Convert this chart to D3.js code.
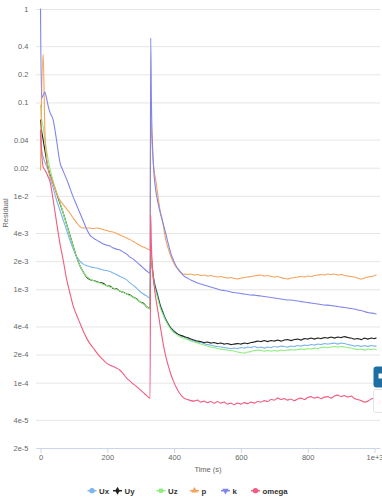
<!DOCTYPE html>
<html><head><meta charset="utf-8">
<script src="https://cdn.jsdelivr.net/npm/d3@7"></script>
<style>
body{margin:0;background:#fff;}
svg{display:block;font-family:"Liberation Sans",Arial,sans-serif;}
</style>
</head><body>
<svg id="chart" width="382" height="500"></svg>
<script>
// ---------- DATA ----------
const time = [0,3,8,13,18,23,28,38,48,58,68,78,88,98,108,118,128,138,148,158,168,178,188,198,208,218,228,238,248,258,268,278,288,298,308,318,328,
330,332,336,340,345,350,358,366,374,382,390,398,406,414,422,430,
440,450,460,470,480,490,500,510,520,530,540,550,560,570,580,590,600,610,620,630,640,650,660,670,680,690,700,710,720,730,740,750,760,770,780,790,800,810,820,830,840,850,860,870,880,890,900,910,920,930,940,950,960,970,980,990,1000,1005];

const seriesNames = ["Ux","Uy","Uz","p","k","omega"];
const seriesColors = ["#7cb5ec","#222222","#90ed7d","#f7a35c","#8085e9","#f15c80"];
const seriesSymbols = ["circle","diamond","square","triangle","triangle-down","circle"];

const Ux = [0.0448,0.0309,0.026,0.023,0.0209,0.0189,0.0159,0.0121,0.00902,0.00705,0.00551,0.0043,0.00336,0.00269,0.00224,0.002,0.00186,0.00179,0.00175,0.00171,0.00169,0.00165,0.00161,0.00159,0.00155,0.00149,0.00144,0.00137,0.00132,0.00126,0.00117,0.0011,0.00103,0.000946,0.000889,0.000846,0.000806,
0.00336,0.00232,0.00161,0.00126,0.001057,0.000911,0.000695,0.000585,0.000492,0.000435,0.000389,0.000366,0.000344,0.000327,0.000316,0.000308,
2.966e-4,2.859e-4,2.789e-4,2.721e-4,2.688e-4,2.622e-4,2.559e-4,2.527e-4,2.466e-4,2.436e-4,2.406e-4,2.376e-4,2.347e-4,2.318e-4,2.347e-4,2.318e-4,2.376e-4,2.347e-4,2.406e-4,2.376e-4,2.436e-4,2.376e-4,2.406e-4,2.347e-4,2.406e-4,2.376e-4,2.436e-4,2.406e-4,2.466e-4,2.436e-4,2.406e-4,2.466e-4,2.436e-4,2.496e-4,2.466e-4,2.527e-4,2.496e-4,2.559e-4,2.527e-4,2.590e-4,2.559e-4,2.622e-4,2.590e-4,2.622e-4,2.655e-4,2.590e-4,2.655e-4,2.622e-4,2.559e-4,2.527e-4,2.466e-4,2.496e-4,2.436e-4,2.496e-4,2.436e-4,2.496e-4,2.466e-4,2.466e-4];

const Uy = [0.0648,0.0506,0.0396,0.0309,0.0242,0.0198,0.0171,0.0137,0.0107,0.00838,0.00655,0.00499,0.0038,0.0029,0.00221,0.00179,0.00153,0.00135,0.00127,0.00124,0.00121,0.00118,0.00116,0.00109,0.00108,0.00102,0.00101,0.00095,0.00093,0.00089,0.00087,0.00082,0.00079,0.00073,0.00071,0.00065,0.00062,
0.00297,0.00216,0.00153,0.001195,0.001006,0.000867,0.000678,0.000563,0.00048,0.000424,0.000384,0.000357,0.00034,0.000327,0.000319,0.000312,
3.040e-4,2.930e-4,2.859e-4,2.789e-4,2.755e-4,2.688e-4,2.721e-4,2.655e-4,2.688e-4,2.622e-4,2.655e-4,2.590e-4,2.622e-4,2.559e-4,2.590e-4,2.622e-4,2.590e-4,2.655e-4,2.622e-4,2.688e-4,2.721e-4,2.789e-4,2.755e-4,2.824e-4,2.755e-4,2.824e-4,2.789e-4,2.859e-4,2.789e-4,2.859e-4,2.894e-4,2.824e-4,2.894e-4,2.930e-4,2.859e-4,2.966e-4,2.930e-4,3.003e-4,2.930e-4,3.003e-4,2.966e-4,3.040e-4,3.003e-4,3.078e-4,3.003e-4,3.078e-4,3.040e-4,3.116e-4,3.040e-4,3.003e-4,2.930e-4,2.966e-4,2.894e-4,3.003e-4,2.930e-4,3.003e-4,2.966e-4,3.003e-4];

const Uz = [0.0938,0.0681,0.0545,0.0396,0.0309,0.0242,0.0198,0.0144,0.011,0.00859,0.00655,0.00493,0.00376,0.00287,0.00221,0.00179,0.00153,0.00137,0.00129,0.00124,0.001195,0.001166,0.001124,0.001097,0.001057,0.001031,0.000994,0.000957,0.000922,0.000889,0.000856,0.000816,0.000777,0.00073,0.000695,0.000653,0.000614,
0.00312,0.00221,0.00149,0.001138,0.000957,0.000826,0.000645,0.000543,0.000468,0.000414,0.000375,0.000348,0.000331,0.000316,0.000304,0.000297,
2.894e-4,2.789e-4,2.721e-4,2.655e-4,2.590e-4,2.527e-4,2.466e-4,2.406e-4,2.376e-4,2.318e-4,2.290e-4,2.262e-4,2.234e-4,2.207e-4,2.180e-4,2.127e-4,2.101e-4,2.075e-4,2.127e-4,2.153e-4,2.207e-4,2.234e-4,2.207e-4,2.180e-4,2.207e-4,2.180e-4,2.207e-4,2.180e-4,2.234e-4,2.207e-4,2.234e-4,2.262e-4,2.234e-4,2.262e-4,2.290e-4,2.262e-4,2.318e-4,2.290e-4,2.347e-4,2.318e-4,2.376e-4,2.406e-4,2.376e-4,2.406e-4,2.436e-4,2.406e-4,2.436e-4,2.406e-4,2.376e-4,2.347e-4,2.290e-4,2.262e-4,2.290e-4,2.234e-4,2.290e-4,2.262e-4,2.290e-4,2.262e-4];

const p = [0.0189,0.106,0.33,0.0506,0.026,0.0198,0.0167,0.0137,0.0107,0.00902,0.00807,0.00723,0.00655,0.00578,0.00518,0.00469,0.00452,0.00452,0.00452,0.00447,0.00452,0.00447,0.00436,0.00425,0.00415,0.0041,0.00395,0.0038,0.00367,0.00353,0.0034,0.00324,0.00309,0.00294,0.00283,0.00273,0.00263,
0.083,0.0506,0.0273,0.0189,0.0148,0.011,0.00705,0.00524,0.00353,0.00276,0.00227,0.00195,0.00173,0.00159,0.00149,0.001455,
1.437e-3,1.455e-3,1.420e-3,1.437e-3,1.403e-3,1.420e-3,1.385e-3,1.403e-3,1.368e-3,1.352e-3,1.368e-3,1.335e-3,1.319e-3,1.335e-3,1.303e-3,1.287e-3,1.319e-3,1.335e-3,1.352e-3,1.368e-3,1.385e-3,1.403e-3,1.420e-3,1.385e-3,1.403e-3,1.368e-3,1.352e-3,1.368e-3,1.335e-3,1.303e-3,1.287e-3,1.319e-3,1.335e-3,1.352e-3,1.368e-3,1.352e-3,1.385e-3,1.368e-3,1.403e-3,1.420e-3,1.437e-3,1.420e-3,1.455e-3,1.437e-3,1.455e-3,1.420e-3,1.437e-3,1.403e-3,1.385e-3,1.368e-3,1.352e-3,1.319e-3,1.287e-3,1.319e-3,1.352e-3,1.368e-3,1.403e-3,1.420e-3];

const k = [1,0.111,0.12,0.129,0.111,0.0915,0.0789,0.0648,0.0396,0.023,0.0184,0.0151,0.0121,0.0097,0.00797,0.00655,0.00537,0.00441,0.0038,0.00353,0.00336,0.0032,0.00305,0.00297,0.0029,0.00276,0.00269,0.00263,0.0025,0.00238,0.00221,0.0021,0.00195,0.00182,0.00169,0.00157,0.00149,
0.489,0.106,0.0309,0.0167,0.0115,0.00902,0.00671,0.00524,0.0041,0.00312,0.00244,0.00205,0.00177,0.00161,0.00149,0.00138,
1.319e-3,1.256e-3,1.21e-3,1.166e-3,1.138e-3,1.11e-3,1.083e-3,1.057e-3,1.031e-3,1.006e-3,0.981e-3,0.969e-3,0.957e-3,0.934e-3,0.922e-3,0.911e-3,0.9e-3,0.889e-3,0.878e-3,0.867e-3,0.865e-3,0.856e-3,0.846e-3,0.836e-3,0.826e-3,0.816e-3,0.806e-3,0.796e-3,0.786e-3,0.777e-3,0.767e-3,0.768e-3,0.758e-3,0.748e-3,0.739e-3,0.73e-3,0.721e-3,0.712e-3,0.703e-3,0.695e-3,0.686e-3,0.678e-3,0.676e-3,0.67e-3,0.661e-3,0.653e-3,0.645e-3,0.637e-3,0.63e-3,0.622e-3,0.614e-3,0.599e-3,0.592e-3,0.578e-3,0.564e-3,0.557e-3,0.55e-3,0.543e-3];

const omega = [0.0506,0.0309,0.0203,0.0189,0.01755,0.0159,0.0144,0.00902,0.00524,0.00312,0.00205,0.00129,0.000911,0.000661,0.00053,0.000435,0.000357,0.0003,0.000262,0.000235,0.00021,0.00019,0.000175,0.000162,0.000154,0.000149,0.000143,0.000136,0.000124,0.000112,0.000104,0.0000966,0.0000908,0.0000843,0.0000783,0.0000728,0.0000684,
0.00623,0.00297,0.00153,0.00111,0.000806,0.00063,0.000414,0.000279,0.000198,0.000154,0.000124,0.000104,0.0000897,0.0000794,0.0000728,0.0000684,
6.60e-5,6.43e-5,6.35e-5,6.51e-5,6.20e-5,6.35e-5,6.12e-5,6.28e-5,6.05e-5,6.28e-5,6.05e-5,6.20e-5,5.90e-5,6.05e-5,5.83e-5,6.05e-5,5.90e-5,6.12e-5,5.97e-5,6.20e-5,6.05e-5,6.28e-5,6.20e-5,6.43e-5,6.28e-5,6.60e-5,6.51e-5,6.84e-5,6.60e-5,6.76e-5,6.51e-5,6.68e-5,6.43e-5,6.68e-5,6.84e-5,6.60e-5,6.93e-5,7.10e-5,6.84e-5,7.01e-5,6.76e-5,7.01e-5,7.10e-5,6.84e-5,7.19e-5,7.36e-5,7.10e-5,7.28e-5,7.01e-5,7.19e-5,6.76e-5,6.60e-5,6.43e-5,6.20e-5,6.35e-5,6.68e-5,6.84e-5,6.76e-5];

const yTicks = [1,0.4,0.2,0.1,0.04,0.02,1e-2,4e-3,2e-3,1e-3,4e-4,2e-4,1e-4,4e-5,2e-5];
const yTickLabels = ["1","0.4","0.2","0.1","0.04","0.02","1e-2","4e-3","2e-3","1e-3","4e-4","2e-4","1e-4","4e-5","2e-5"];
const xTicks = [0,200,400,600,800,1000];
const xTickLabels = ["0","200","400","600","800","1e+3"];
const xTitle = "Time (s)";
const yTitle = "Residual";

// ---------- CHART ----------
const series = [Ux, Uy, Uz, p, k, omega];
const svg = d3.select("#chart");
const plotL = 36, plotR = 380, plotT = 9, plotB = 448;
const x = d3.scaleLinear().domain([-13.5, 1016.5]).range([plotL, plotR]);
const y = d3.scaleLog().domain([2e-5, 1]).range([plotB, plotT]);

// y axis with gridlines
const gy = svg.append("g").attr("transform", `translate(${plotL},0)`)
  .call(d3.axisLeft(y).tickValues(yTicks).tickFormat((d,i)=>yTickLabels[i])
        .tickSize(-(plotR-plotL)).tickPadding(7.5));
gy.select(".domain").remove();
gy.selectAll(".tick line").attr("stroke","#e6e6e6").attr("stroke-width",1);
gy.selectAll(".tick text").attr("fill","#666").style("font-size","7.5px")
  .style("font-family",'"Liberation Sans",Arial,sans-serif');

// x axis
const gx = svg.append("g").attr("transform", `translate(0,${plotB})`)
  .call(d3.axisBottom(x).tickValues(xTicks).tickFormat((d,i)=>xTickLabels[i])
        .tickSize(5).tickSizeOuter(0).tickPadding(1.5));
gx.select(".domain").attr("stroke","#ccd6eb");
gx.selectAll(".tick line").attr("stroke","#ccd6eb");
gx.selectAll(".tick text").attr("fill","#666").style("font-size","7.5px")
  .style("font-family",'"Liberation Sans",Arial,sans-serif');

// titles
svg.append("text").attr("x",(plotL+plotR)/2).attr("y",472).attr("text-anchor","middle")
  .attr("fill","#666").style("font-size","7.5px").text(xTitle);
svg.append("text").attr("transform","translate(7.5,213) rotate(-90)").attr("text-anchor","middle")
  .attr("fill","#666").style("font-size","7.5px").text(yTitle);

// series lines
const line = d3.line().x((d,i)=>x(time[i])).y(d=>y(d)).curve(d3.curveMonotoneX);
svg.append("g").selectAll("path").data(series).join("path")
  .attr("d", d=>line(d)).attr("fill","none")
  .attr("stroke",(d,i)=>seriesColors[i]).attr("stroke-width",1.1)
  .attr("stroke-linejoin","round").attr("stroke-linecap","round");

// legend
const legendX = [87.5,113,156.5,190,221,251];
const legY = 490.7;
const symType = {"circle":d3.symbolCircle,"diamond":d3.symbolDiamond,"square":d3.symbolSquare,"triangle":d3.symbolTriangle,"triangle-down":d3.symbolTriangle};
const leg = svg.append("g").selectAll("g").data(seriesNames).join("g")
  .attr("transform",(d,i)=>`translate(${legendX[i]},${legY})`);
leg.append("line").attr("x1",0).attr("x2",9).attr("y1",0).attr("y2",0)
  .attr("stroke",(d,i)=>seriesColors[i]).attr("stroke-width",1.5);
leg.append("path")
  .attr("d",(d,i)=>d3.symbol().type(symType[seriesSymbols[i]]).size(seriesSymbols[i]==="circle"?22:18)())
  .attr("transform",(d,i)=>`translate(4.5,0)${seriesSymbols[i]==="triangle-down"?" rotate(180)":""}`)
  .attr("fill",(d,i)=>seriesColors[i]);
leg.append("text").attr("x",11.5).attr("y",2.8).attr("fill","#333")
  .style("font-size","7.8px").style("font-weight","bold").text(d=>d);

// page widget at right edge
svg.append("rect").attr("x",373.5).attr("y",366.5).attr("width",12).attr("height",21).attr("rx",3).attr("fill","#1b6fa3");
svg.append("rect").attr("x",378.5).attr("y",373.5).attr("width",4).attr("height",5).attr("fill","#fff");
svg.append("rect").attr("x",373.5).attr("y",389.5).attr("width",12).attr("height",23).attr("rx",2).attr("fill","#fff").attr("stroke","#e2e2e2");
svg.append("text").attr("x",379).attr("y",404).attr("fill","#f7a35c").style("font-size","6px").text(":");
</script>
</body></html>
